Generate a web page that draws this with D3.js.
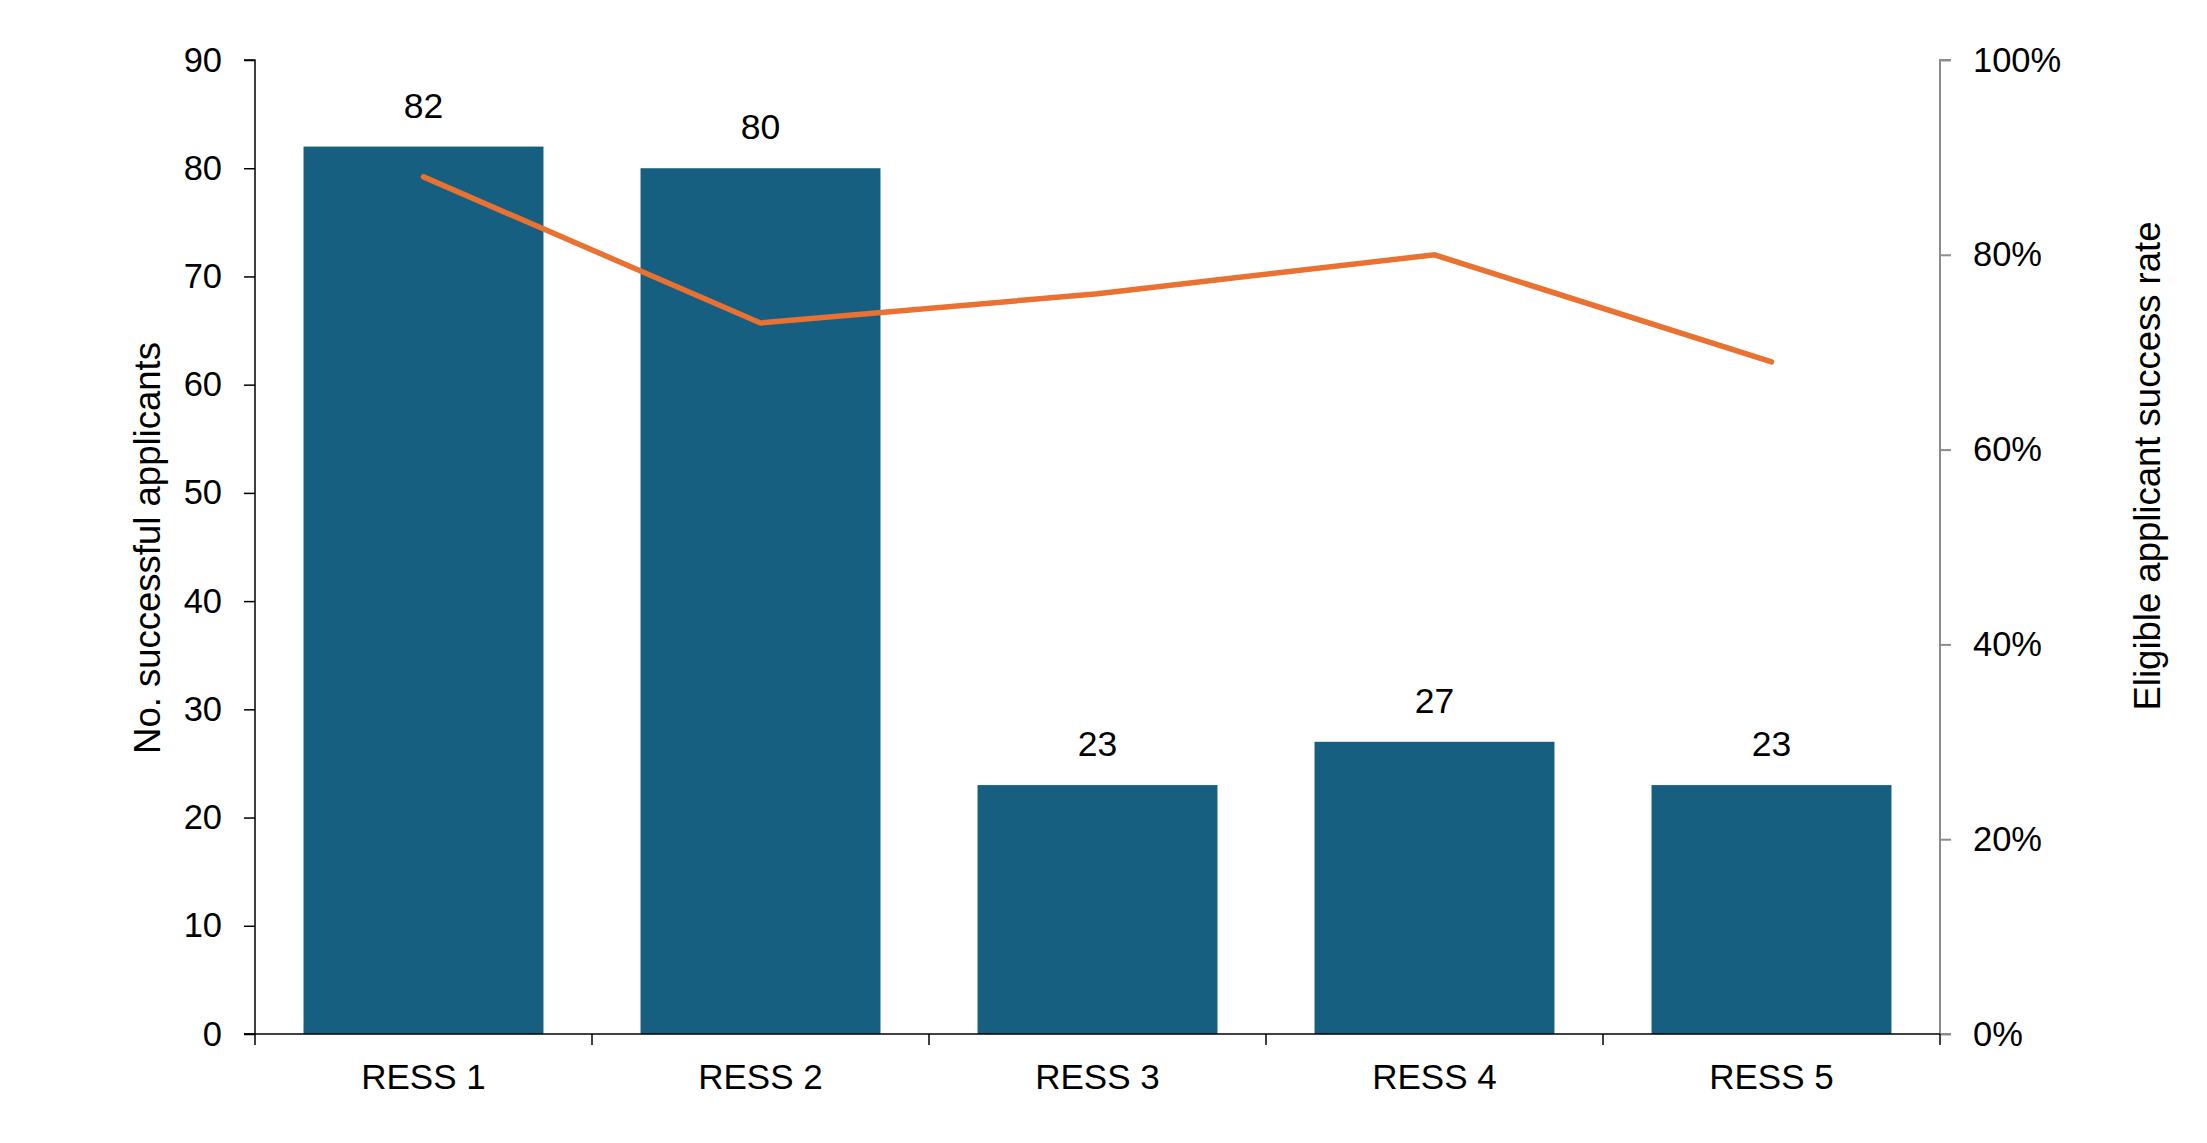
<!DOCTYPE html>
<html><head><meta charset="utf-8">
<script src="https://cdn.jsdelivr.net/npm/d3@7"></script>
<style>body{margin:0;background:#fff}svg{display:block}text{font-family:"Liberation Sans",Arial,sans-serif;fill:#000}</style>
</head><body>
<svg id="c" width="2207" height="1143"></svg>
<script>
const categories = ["RESS 1","RESS 2","RESS 3","RESS 4","RESS 5"];
const applicants = [82, 80, 23, 27, 23];
const successRate = [0.88, 0.73, 0.76, 0.80, 0.69];
const leftTicks = [0,10,20,30,40,50,60,70,80,90];
const rightTicks = [0,0.2,0.4,0.6,0.8,1.0];

const svg = d3.select("#c");
const L = 255, R = 1940, T = 60, B = 1034;
const x = d3.scaleBand().domain(categories).range([L, R]).paddingInner(0.288).paddingOuter(0.144);
const y = d3.scaleLinear().domain([0, 90]).range([B, T]);
const y2 = d3.scaleLinear().domain([0, 1]).range([B, T]);

// bars
svg.append("g").selectAll("rect").data(applicants).join("rect")
  .attr("x", (d,i) => x(categories[i])).attr("width", x.bandwidth())
  .attr("y", d => y(d)).attr("height", d => y(0) - y(d))
  .attr("fill", "#175f81");

// left axis
const ga = svg.append("g").attr("transform", `translate(${L},0)`)
  .call(d3.axisLeft(y).tickValues(leftTicks).tickSize(11).tickPadding(22));
ga.selectAll("path,line").attr("stroke", "#000").attr("stroke-width", 1.5);
ga.select(".domain").attr("d", `M-11,${T}H0V${B}H-11`);
ga.selectAll("text").attr("font-size", 34.5).attr("font-family", "Liberation Sans, Arial, sans-serif").attr("fill", "#000");

// right axis
const gr = svg.append("g").attr("transform", `translate(${R},0)`)
  .call(d3.axisRight(y2).tickValues(rightTicks).tickFormat(d3.format(".0%")).tickSize(11).tickPadding(22));
gr.selectAll("path,line").attr("stroke", "#8c8c8c").attr("stroke-width", 2);
gr.select(".domain").attr("d", `M11,${T}H0V${B}H11`);
gr.selectAll("text").attr("font-size", 34.5).attr("font-family", "Liberation Sans, Arial, sans-serif").attr("fill", "#000");

// bottom axis
const boundaries = categories.map(c => x(c) - x.step()*x.paddingInner()/2).concat([R]);
const gb = svg.append("g").attr("transform", `translate(0,${B})`);
gb.append("line").attr("x1", L - 11).attr("x2", R).attr("stroke", "#000").attr("stroke-width", 1.5);
gb.selectAll("line.t").data(boundaries).join("line").attr("class","t")
  .attr("x1", d => d).attr("x2", d => d).attr("y1", 0).attr("y2", 11).attr("stroke", "#000").attr("stroke-width", 1.5);
gb.selectAll("text").data(categories).join("text")
  .attr("x", d => x(d) + x.bandwidth()/2).attr("y", 55)
  .attr("text-anchor", "middle").attr("font-size", 35).text(d => d);

// data labels
svg.append("g").selectAll("text").data(applicants).join("text")
  .attr("x", (d,i) => x(categories[i]) + x.bandwidth()/2).attr("y", d => y(d) - 29)
  .attr("text-anchor", "middle").attr("font-size", 35.5).text(d => d);

// line
const line = d3.line().x((d,i) => x(categories[i]) + x.bandwidth()/2).y(d => y2(d));
svg.append("path").datum(successRate).attr("d", line)
  .attr("fill", "none").attr("stroke", "#e97131").attr("stroke-width", 5.5)
  .attr("stroke-linecap", "round").attr("stroke-linejoin", "miter");

// axis titles
svg.append("text").attr("transform", `translate(160,548) rotate(-90)`)
  .attr("text-anchor", "middle").attr("font-size", 36.5).text("No. successful applicants");
svg.append("text").attr("transform", `translate(2160,466) rotate(-90)`)
  .attr("text-anchor", "middle").attr("font-size", 36.5).text("Eligible applicant success rate");
</script>
</body></html>
